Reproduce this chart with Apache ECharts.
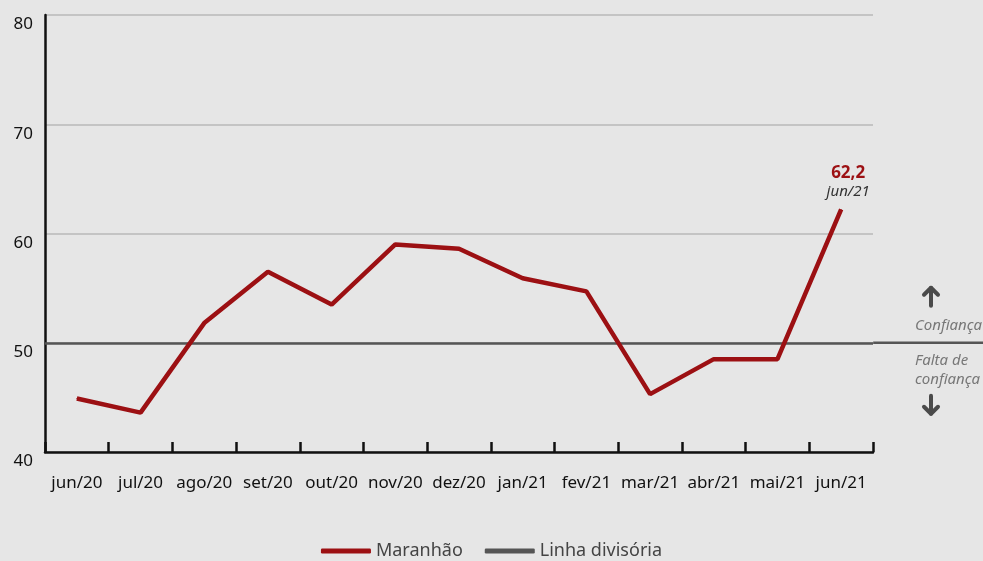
<!DOCTYPE html>
<html>
<head>
<meta charset="utf-8">
<title>Maranhão</title>
<script src="https://cdn.jsdelivr.net/npm/echarts@6/dist/echarts.min.js"></script>
<style>
  html, body { margin: 0; padding: 0; background: #e6e6e6; }
  #chart { width: 983px; height: 561px; }
</style>
</head>
<body>
<div id="chart"></div>
<script>
// dados
const categorias = ['jun/20', 'jul/20', 'ago/20', 'set/20', 'out/20', 'nov/20', 'dez/20',
  'jan/21', 'fev/21', 'mar/21', 'abr/21', 'mai/21', 'jun/21'];
const maranhao = [44.9, 43.6, 51.8, 56.5, 53.5, 59.0, 58.6, 55.9, 54.7, 45.3, 48.5, 48.5, 62.2];
const linhaDivisoria = 50;
const yMin = 40;
const yMax = 80;
const yInterval = 10;

const fonte = '"Noto Sans", sans-serif';
const vermelho = '#9c1013';
const cinzaEscuro = '#555555';
const corSeta = '#4a4a4a';

const el = document.getElementById('chart');
const chart = echarts.init(el);

// rótulo só no último ponto
const dadosSerie = maranhao.map((v, i) => {
  if (i !== maranhao.length - 1) return v;
  return {
    value: v,
    label: {
      show: true,
      position: 'top',
      distance: 4,
      offset: [7, -4],
      formatter: '{a|' + v.toFixed(1).replace('.', ',') + '}\n{b|' + categorias[i] + '}',
      rich: {
        a: { fontFamily: fonte, fontWeight: 'bold', fontSize: 17, color: vermelho, lineHeight: 20, align: 'center' },
        b: { fontFamily: fonte, fontStyle: 'italic', fontSize: 15, color: '#333', lineHeight: 18, align: 'center' }
      }
    }
  };
});

chart.setOption({
  backgroundColor: '#e6e6e6',
  animation: false,
  grid: { left: 45, right: 110, top: 15, bottom: 109, containLabel: false },
  legend: {
    top: 537,
    left: 'center',
    icon: 'roundRect',
    itemWidth: 50,
    itemHeight: 5,
    itemGap: 22,
    textStyle: { fontFamily: fonte, fontSize: 18, color: '#444' },
    data: ['Maranhão', 'Linha divisória']
  },
  xAxis: {
    type: 'category',
    data: categorias,
    boundaryGap: true,
    axisLine: { lineStyle: { color: '#111', width: 2.5 } },
    axisTick: { show: true, inside: true, length: 10, lineStyle: { color: '#111', width: 2.5 } },
    axisLabel: { fontFamily: fonte, fontSize: 17, color: '#111', margin: 23, interval: 0 },
    splitLine: { show: false }
  },
  yAxis: {
    type: 'value',
    min: yMin,
    max: yMax,
    interval: yInterval,
    axisLine: { show: true, lineStyle: { color: '#111', width: 2.5 } },
    axisTick: { show: false },
    axisLabel: { fontFamily: fonte, fontSize: 17, color: '#111', margin: 12, verticalAlign: 'top', padding: [1, 0, 0, 0] },
    splitLine: { show: true, lineStyle: { color: '#b9b9b9', width: 1.5 } }
  },
  series: [
    {
      name: 'Maranhão',
      type: 'line',
      data: dadosSerie,
      symbol: 'circle',
      symbolSize: 1,
      showSymbol: true,
      color: vermelho,
      itemStyle: { color: vermelho },
      lineStyle: { color: vermelho, width: 4.5 },
      z: 5
    },
    {
      name: 'Linha divisória',
      type: 'line',
      data: [],
      color: cinzaEscuro,
      lineStyle: { color: cinzaEscuro, width: 2.5 },
      markLine: {
        silent: true,
        symbol: 'none',
        label: { show: false },
        lineStyle: { color: cinzaEscuro, width: 2.5, type: 'solid' },
        data: [{ yAxis: linhaDivisoria }]
      },
      z: 3
    }
  ]
});

// extensão da linha divisória e anotações à direita
const yLinha = chart.convertToPixel({ yAxisIndex: 0 }, linhaDivisoria);
const xFim = chart.convertToPixel({ xAxisIndex: 0 }, categorias[categorias.length - 1]);
const larg = chart.getWidth();
const xDir = xFim + 32;
const xSeta = 931;
const corNota = '#777';

chart.setOption({
  graphic: [
    {
      type: 'line',
      shape: { x1: xDir, y1: yLinha, x2: larg, y2: yLinha },
      style: { stroke: cinzaEscuro, lineWidth: 2.5 },
      z: 3
    },
    // seta para cima
    {
      type: 'line',
      shape: { x1: xSeta, y1: yLinha - 55, x2: xSeta, y2: yLinha - 37 },
      style: { stroke: corSeta, lineWidth: 4, lineCap: 'round' }
    },
    {
      type: 'polyline',
      shape: { points: [[xSeta - 7, yLinha - 48], [xSeta, yLinha - 55], [xSeta + 7, yLinha - 48]] },
      style: { stroke: corSeta, lineWidth: 4, lineCap: 'round', lineJoin: 'round', fill: null }
    },
    {
      type: 'text', x: 915, y: yLinha - 17,
      style: { text: 'Confiança', font: 'italic 15px ' + fonte, fill: corNota, verticalAlign: 'middle' }
    },
    {
      type: 'text', x: 915, y: yLinha + 8,
      style: { text: 'Falta de\nconfiança', font: 'italic 15px ' + fonte, fill: corNota, lineHeight: 19, verticalAlign: 'top' }
    },
    // seta para baixo
    {
      type: 'line',
      shape: { x1: xSeta, y1: yLinha + 53, x2: xSeta, y2: yLinha + 71 },
      style: { stroke: corSeta, lineWidth: 4, lineCap: 'round' }
    },
    {
      type: 'polyline',
      shape: { points: [[xSeta - 7, yLinha + 64], [xSeta, yLinha + 71], [xSeta + 7, yLinha + 64]] },
      style: { stroke: corSeta, lineWidth: 4, lineCap: 'round', lineJoin: 'round', fill: null }
    }
  ]
});

window.addEventListener('resize', () => chart.resize());
</script>
</body>
</html>
